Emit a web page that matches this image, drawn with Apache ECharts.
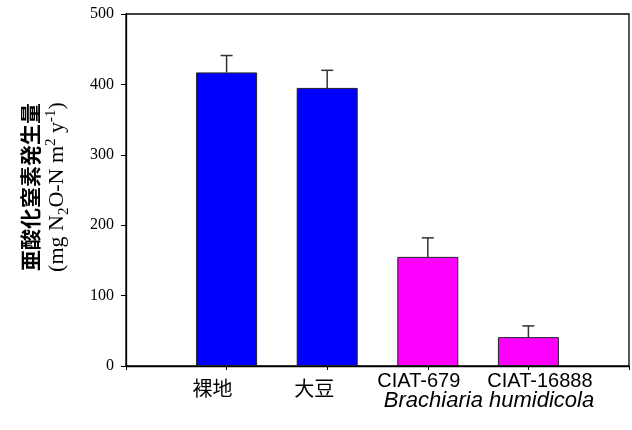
<!DOCTYPE html>
<html>
<head>
<meta charset="utf-8">
<script src="https://cdn.jsdelivr.net/npm/echarts@6/dist/echarts.min.js"></script>
<style>
html,body{margin:0;padding:0;background:#fff;}
#c{width:632px;height:430px;}
</style>
</head>
<body>
<div id="c"></div>
<script>
var categories = ['裸地', '大豆', 'CIAT-679', 'CIAT-16888'];
var means = [417, 395, 155, 41];
var errors = [24, 25, 27, 16];
var barColors = ['#0000FF', '#0000FF', '#FF00FF', '#FF00FF'];
var yTicks = [0, 100, 200, 300, 400, 500];
var groupLabel = 'Brachiaria humidicola';

var axisCats = [''].concat(categories).concat(['']);
var barData = [null].concat(means.map(function (v, i) {
  return { value: v, itemStyle: { color: barColors[i] } };
})).concat([null]);
var errData = means.map(function (v, i) { return [i + 1, v, errors[i]]; });

var labelKey = { '裸地': 'cjkA', '大豆': 'cjkB', 'CIAT-679': 'latA', 'CIAT-16888': 'latB' };

var chart = echarts.init(document.getElementById('c'), null, { renderer: 'canvas' });
chart.setOption({
  animation: false,
  backgroundColor: '#fff',
  grid: { left: 126, right: 2, top: 14, bottom: 64, show: true, borderColor: '#000', borderWidth: 1.3, backgroundColor: 'transparent' },
  xAxis: {
    type: 'category',
    data: axisCats,
    boundaryGap: false,
    axisLine: { lineStyle: { color: '#000', width: 1.3 } },
    axisTick: { show: true, length: 4, lineStyle: { color: '#000' }, interval: 0 },
    axisLabel: {
      interval: 0,
      margin: 5,
      formatter: function (v) { return v ? '{' + labelKey[v] + '|' + v + '}' : ''; },
      rich: {
        cjkA: { fontFamily: 'Noto Sans CJK JP', fontSize: 20, color: '#000', padding: [7, 28, 0, 0] },
        cjkB: { fontFamily: 'Noto Sans CJK JP', fontSize: 20, color: '#000', padding: [7, 26, 0, 0] },
        latA: { fontFamily: 'Liberation Sans', fontSize: 20, color: '#000', padding: [0, 18, 0, 0] },
        latB: { fontFamily: 'Liberation Sans', fontSize: 20, color: '#000', padding: [0, 0, 0, 23] }
      }
    },
    splitLine: { show: false }
  },
  yAxis: {
    type: 'value',
    min: yTicks[0],
    max: yTicks[yTicks.length - 1],
    interval: 100,
    axisLine: { show: true, lineStyle: { color: '#000', width: 1.3 } },
    axisTick: { show: true, inside: false, length: 5, lineStyle: { color: '#000' } },
    axisLabel: { fontFamily: 'Liberation Serif', fontSize: 16, color: '#000', margin: 12 },
    splitLine: { show: false }
  },
  graphic: [
    {
      type: 'text',
      x: 44, y: 187,
      rotation: Math.PI / 2,
      style: {
        text: '{a|亜酸化窒素発生量}\n{b|(mg N}{sub|2}{b|O-N m}{sup|2}{b| y}{sup|-1}{b|)}',
        align: 'center',
        verticalAlign: 'middle',
        rich: {
          a: { fontFamily: 'Noto Sans CJK JP', fontWeight: 'bold', fontSize: 21, lineHeight: 27, fill: '#000' },
          b: { fontFamily: 'Liberation Serif', fontSize: 22, lineHeight: 28, fill: '#000' },
          sub: { fontFamily: 'Liberation Serif', fontSize: 15, lineHeight: 28, verticalAlign: 'bottom', fill: '#000' },
          sup: { fontFamily: 'Liberation Serif', fontSize: 15, lineHeight: 28, verticalAlign: 'top', fill: '#000' }
        }
      }
    },
    {
      type: 'text',
      x: 489, y: 401,
      style: {
        text: groupLabel,
        align: 'center',
        verticalAlign: 'middle',
        fontFamily: 'Liberation Sans',
        fontStyle: 'italic',
        fontSize: 22,
        fill: '#000'
      }
    }
  ],
  series: [
    {
      type: 'bar',
      data: barData,
      barWidth: 61,
      itemStyle: { borderColor: '#222', borderWidth: 1 },
      z: 2
    },
    {
      type: 'custom',
      data: errData,
      z: 3,
      renderItem: function (params, api) {
        var x = api.value(0), v = api.value(1), e = api.value(2);
        var p0 = api.coord([x, v]);
        var p1 = api.coord([x, v + e]);
        var hw = 6;
        return {
          type: 'group',
          children: [
            { type: 'line', shape: { x1: p0[0], y1: p0[1], x2: p1[0], y2: p1[1] }, style: { stroke: '#333', lineWidth: 1.5 } },
            { type: 'line', shape: { x1: p1[0] - hw, y1: p1[1], x2: p1[0] + hw, y2: p1[1] }, style: { stroke: '#333', lineWidth: 1.5 } }
          ]
        };
      }
    }
  ]
});
</script>
</body>
</html>
